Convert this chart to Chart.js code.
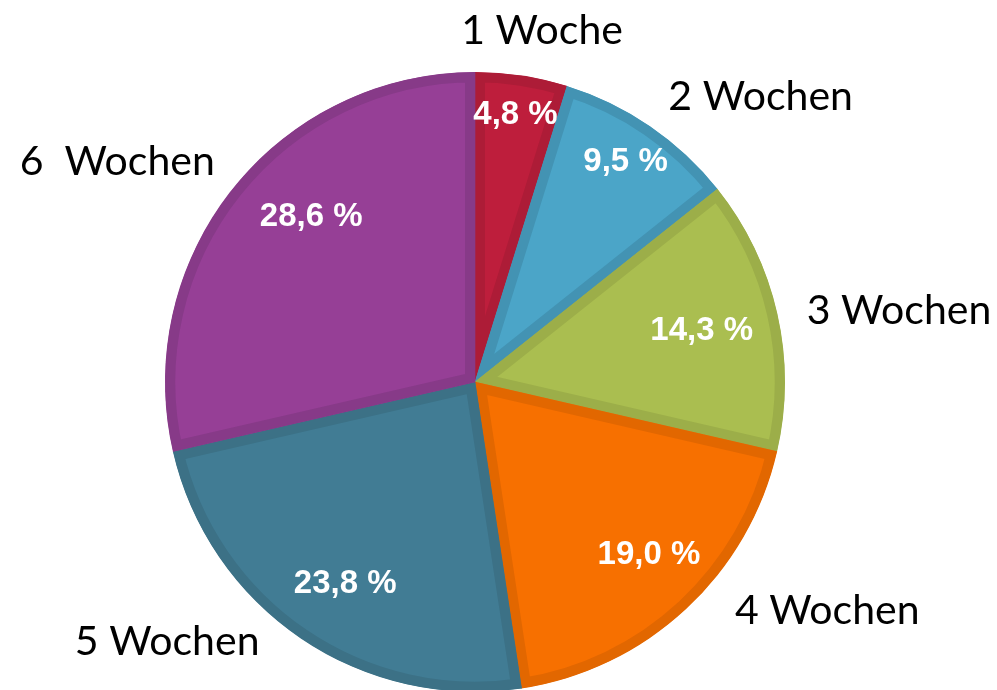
<!DOCTYPE html>
<html>
<head>
<meta charset="utf-8">
<script src="https://cdn.jsdelivr.net/npm/chart.js@4.4.0/dist/chart.umd.min.js"></script>
<style>
  html, body { margin: 0; padding: 0; background: #fff; overflow: hidden; }
  #wrap { position: relative; width: 997px; height: 690px; overflow: hidden; }
  #wrap canvas { position: absolute; left: 0; top: 0; }
</style>
</head>
<body>
<div id="wrap"><canvas id="pie-chart" width="997" height="700"></canvas></div>
<script>
// data
const categories = ["1 Woche", "2 Wochen", "3 Wochen", "4 Wochen", "5 Wochen", "6  Wochen"];
const shares = [4.8, 9.5, 14.3, 19.0, 23.8, 28.6];

const fillColors = ["#BE1E3C", "#4BA5C8", "#AABE50", "#F77000", "#417C94", "#963F96"];
const edgeColors = ["#AD1C37", "#4393B3", "#9CAE49", "#E26700", "#3C7186", "#873A88"];

// where the text goes: value labels relative to slice (radius fraction, angle shift in deg),
// names relative to the pie (angle in deg from top, distance in px)
const valueRadius = [0.87, 0.86, 0.75, 0.79, 0.775, 0.75];
const valueShift = [0, 0, 0, -2.4, -1.5, 6.7];
const namePlaces = [[10.8, 358], [45, 404], [80.4, 430], [123, 420], [229.8, 403], [301.6, 420]];

const labelPlugin = {
    id: 'sliceLabels',
    afterDatasetsDraw(chart) {
        const ctx = chart.ctx;
        const arcs = chart.getDatasetMeta(0).data;
        ctx.save();
        ctx.textAlign = 'center';
        ctx.textBaseline = 'middle';
        arcs.forEach(function(arc, i) {
            const p = arc.getProps(['x', 'y', 'startAngle', 'endAngle', 'outerRadius'], true);
            const mid = (p.startAngle + p.endAngle) / 2 + valueShift[i] * Math.PI / 180;
            const r = p.outerRadius * valueRadius[i];
            ctx.fillStyle = '#ffffff';
            ctx.font = 'bold 33px "Liberation Sans", Arial, sans-serif';
            ctx.fillText(shares[i].toFixed(1).replace('.', ',') + ' %', p.x + Math.cos(mid) * r, p.y + Math.sin(mid) * r);

            const a = namePlaces[i][0] * Math.PI / 180;
            const d = namePlaces[i][1];
            ctx.fillStyle = '#000000';
            ctx.font = '41px Lato, "Open Sans", sans-serif';
            ctx.fillText(categories[i], p.x + Math.sin(a) * d, p.y - Math.cos(a) * d);
        });
        ctx.restore();
    }
};

new Chart(document.getElementById("pie-chart"), {
    type: 'pie',
    data: {
        labels: categories,
        datasets: [
            {
                data: shares,
                backgroundColor: fillColors,
                borderColor: edgeColors,
                borderWidth: 10,
                borderAlign: 'inner',
                borderJoinStyle: 'miter'
            }
        ]
    },
    options: {
        responsive: false,
        animation: false,
        layout: { padding: { top: 72, bottom: 8, left: 0, right: 47 } },
        plugins: {
            legend: { display: false },
            tooltip: { enabled: false }
        }
    },
    plugins: [labelPlugin]
});
</script>
</body>
</html>
